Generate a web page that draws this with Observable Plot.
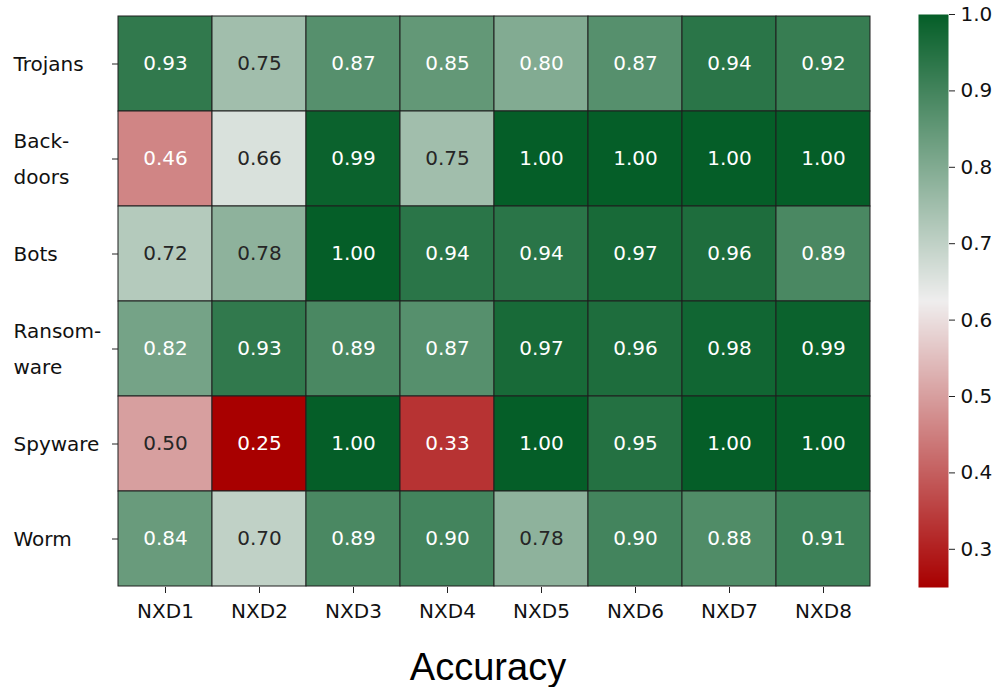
<!DOCTYPE html>
<html><head><meta charset="utf-8">
<script src="https://cdn.jsdelivr.net/npm/d3@7"></script>
<script src="https://cdn.jsdelivr.net/npm/@observablehq/plot@0.6"></script>
<style>
body{margin:0;background:#fff;}
#wrap{position:relative;width:997px;height:687px;font-family:'DejaVu Sans',sans-serif;background:#fff;overflow:hidden;}
#main{position:absolute;left:0;top:0;}
#bar{position:absolute;left:900px;top:0;}
#title{position:absolute;left:0;width:976px;top:652px;height:30px;line-height:30px;text-align:center;font-family:'Liberation Sans',Arial,sans-serif;font-size:38px;color:#000;}
svg text{font-family:'DejaVu Sans',sans-serif;}
</style></head><body>
<div id="wrap"><div id="main"></div><div id="bar"></div><div id="title">Accuracy</div></div>
<script>
const models = ["NXD1","NXD2","NXD3","NXD4","NXD5","NXD6","NXD7","NXD8"];
const categories = ["Trojans","Backdoors","Bots","Ransomware","Spyware","Worm"];
const categoryLabels = ["Trojans","Back-\ndoors","Bots","Ransom-\nware","Spyware","Worm"];
const trojans    = [0.93,0.75,0.87,0.85,0.80,0.87,0.94,0.92];
const backdoors  = [0.46,0.66,0.99,0.75,1.00,1.00,1.00,1.00];
const bots       = [0.72,0.78,1.00,0.94,0.94,0.97,0.96,0.89];
const ransomware = [0.82,0.93,0.89,0.87,0.97,0.96,0.98,0.99];
const spyware    = [0.50,0.25,1.00,0.33,1.00,0.95,1.00,1.00];
const worm       = [0.84,0.70,0.89,0.90,0.78,0.90,0.88,0.91];
const colorbarTicks = [0.3,0.4,0.5,0.6,0.7,0.8,0.9,1.0];

const rows = [trojans, backdoors, bots, ransomware, spyware, worm];
const data = [];
rows.forEach((vals, i) => vals.forEach((v, j) => data.push({category: categories[i], model: models[j], value: v})));

const cDomain = [0.25, 0.625, 1.0];
const cRange = ["#a80000", "#efeeee", "#055e28"];
const colorScale = {type: "linear", domain: cDomain, range: cRange, interpolate: "rgb"};
const cfun = d3.scaleLinear().domain(cDomain).range(cRange).interpolate(d3.interpolateRgb);
function lum(c) {
  const rgb = d3.rgb(c);
  const f = v => { v /= 255; return v <= 0.03928 ? v / 12.92 : Math.pow((v + 0.055) / 1.055, 2.4); };
  return 0.2126 * f(rgb.r) + 0.7152 * f(rgb.g) + 0.0722 * f(rgb.b);
}
const textColor = v => lum(cfun(v)) > 0.38 ? "#262626" : "#ffffff";
const font = "'DejaVu Sans', sans-serif";

const main = Plot.plot({
  width: 900, height: 640,
  marginLeft: 118, marginRight: 30, marginTop: 14, marginBottom: 53,
  style: {fontFamily: font, background: "#fff", color: "#222"},
  x: {domain: models, padding: 0, label: null},
  y: {domain: categories, padding: 0, label: null},
  color: colorScale,
  marks: [
    Plot.cell(data, {x: "model", y: "category", fill: "value", stroke: "#1e1e1e", strokeWidth: 1, inset: 0}),
    Plot.text(data, {x: "model", y: "category", text: d => d.value.toFixed(2), fill: d => textColor(d.value), fontSize: 20, fontFamily: font}),
    Plot.axisX({tickSize: 6, tickPadding: 10, fontSize: 20, fontFamily: font, label: null, fill: "#111"}),
    Plot.axisY({tickSize: 6, tickFormat: () => "", label: null}),
    Plot.text(categories, {y: d => d, text: (d, i) => categoryLabels[i], frameAnchor: "left", textAnchor: "start", dx: -105, dy: -5, fontSize: 20, fontFamily: font, lineHeight: 1.8, fill: "#111"})
  ]
});
document.getElementById("main").appendChild(main);

const bar = Plot.plot({
  width: 97, height: 640,
  marginLeft: 18, marginRight: 49, marginTop: 14, marginBottom: 53,
  style: {fontFamily: font, background: "#fff", color: "#222"},
  x: {domain: [0, 1], axis: null},
  y: {domain: [0.25, 1.0], label: null, axis: null},
  color: colorScale,
  marks: [
    Plot.raster({x1: 0, x2: 1, y1: 0.25, y2: 1.0, width: 1, height: 573, fill: (x, y) => y}),
    Plot.axisY({anchor: "right", ticks: colorbarTicks, tickFormat: d3.format(".1f"), tickSize: 6, tickPadding: 6, fontSize: 20, fontFamily: font, label: null, fill: "#111"})
  ]
});
document.getElementById("bar").appendChild(bar);
</script>
</body></html>
